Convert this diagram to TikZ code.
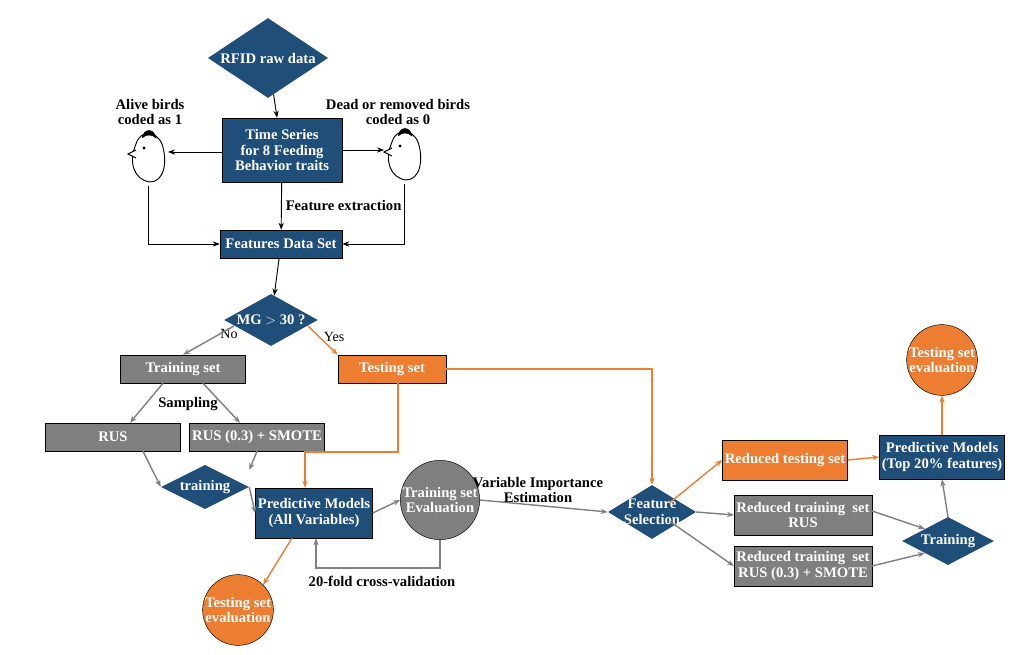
\documentclass[tikz,border=0pt]{standalone}
\usepackage{fontspec}
\setmainfont{Liberation Serif}
\usetikzlibrary{shapes.geometric, arrows.meta}
\definecolor{navy}{HTML}{1F4E79}
\definecolor{orng}{HTML}{ED7D31}
\definecolor{gry}{HTML}{7F7F7F}
\newcommand{\hen}[2]{% position, name
  \begin{scope}[shift={#1}]
    \draw[fill=white, line width=0.8pt] (-12,-8) .. controls (-20,10) and (-14,28) .. (2,30) .. controls (16,30) and (20,10) .. (14,-8) .. controls (8,-22) and (-8,-22) .. (-12,-8);
    \draw[fill=black] (-6,-14) .. controls (-4,-24) and (6,-24) .. (8,-14) .. controls (4,-18) and (-2,-18) .. (-6,-14);
    \draw[fill=white, line width=0.8pt] (-12,-2) -- (-20,2) -- (-12,6);
    \fill (-4,-4) circle (1.6);
    \coordinate (#2) at (0,0);
  \end{scope}}
\begin{document}
\begin{tikzpicture}[x=0.03cm, y=-0.03cm, font=\fontsize{12.5}{13.5}\selectfont\bfseries,
  blue box/.style={rectangle, draw=black, fill=navy, text=white, align=center, inner sep=2pt},
  grey box/.style={rectangle, draw=black, fill=gry, text=white, align=center, inner sep=2pt},
  orange box/.style={rectangle, draw=black, fill=orng, text=white, align=center, inner sep=2pt},
  blue diamond/.style={diamond, fill=navy, text=white, align=center, inner sep=-2pt, aspect=1.6},
  black line/.style={-{Stealth[length=6pt]}, thick},
  grey line/.style={-{Stealth[length=6pt]}, gry, very thick},
  orange line/.style={-{Stealth[length=6pt]}, orng, very thick},
  disk/.style={circle, draw=black, text=white, align=center, inner sep=0pt, minimum size=68*0.03cm}]
\useasboundingbox (0,0) rectangle (1024,655);
% top part
\node[blue diamond, minimum width=120*0.03cm, minimum height=80*0.03cm] (rfid) at (268,58) {RFID raw data};
\node[blue box, minimum width=120*0.03cm, minimum height=64*0.03cm] (ts) at (282,150) {Time Series\\for 8 Feeding\\Behavior traits};
\node[align=center] (alive) at (150,112) {Alive birds\\coded as 1};
\node[align=center] (dead) at (398,112) {Dead or removed birds\\coded as 0};
\hen{(148,152)}{alivehen}
\hen{(404,150)}{deadhen}
\node[blue box, minimum width=122*0.03cm, minimum height=28*0.03cm] (fds) at (281,244) {Features Data Set};
\node[blue diamond, minimum width=78*0.03cm, minimum height=50*0.03cm, aspect=1.8, inner sep=1pt] (mg) at (271,320) {MG $>$ 30 ?};
\node[font=\fontsize{12}{13}\selectfont] (no) at (229,334) {No};
\node[font=\fontsize{12}{13}\selectfont] (yes) at (334,337) {Yes};
% left branch
\node[grey box, minimum width=125*0.03cm, minimum height=28*0.03cm] (train) at (183,369) {Training set};
\node[orange box, minimum width=108*0.03cm, minimum height=28*0.03cm] (test) at (392,369) {Testing set};
\node (sampling) at (188,404) {Sampling};
\node[grey box, minimum width=135*0.03cm, minimum height=28*0.03cm] (rus) at (113,437) {RUS};
\node[grey box, minimum width=135*0.03cm, minimum height=28*0.03cm] (smote) at (257,437) {RUS (0.3) + SMOTE};
\node[blue diamond, minimum width=88*0.03cm, minimum height=44*0.03cm, aspect=2] (trn) at (205,487) {training};
\node[blue box, minimum width=102*0.03cm, minimum height=50*0.03cm] (pm) at (314,513) {Predictive Models\\(All Variables)};
\node[disk, fill=gry] (tse) at (440,500) {Training set\\Evaluation};
\node[disk, fill=orng] (eval1) at (238,610) {Testing set\\evaluation};
\node (cv) at (382,581) {20-fold cross-validation};
\node[align=center] (vie) at (538,490) {Variable Importance\\Estimation};
% right part
\node[blue diamond, minimum width=88*0.03cm, minimum height=54*0.03cm, inner sep=-6pt] (fs) at (652,512) {Feature\\Selection};
\node[orange box, minimum width=112*0.03cm, minimum height=40*0.03cm] (rtest) at (785,460) {Reduced testing set};
\node[grey box, minimum width=134*0.03cm, minimum height=40*0.03cm] (rrus) at (803,515) {Reduced training\ \ set\\RUS};
\node[grey box, minimum width=134*0.03cm, minimum height=40*0.03cm] (rsmote) at (803,566) {Reduced training\ \ set\\RUS (0.3) + SMOTE};
\node[blue diamond, minimum width=92*0.03cm, minimum height=48*0.03cm, aspect=2] (trn2) at (948,541) {Training};
\node[blue box, minimum width=104*0.03cm, minimum height=44*0.03cm] (pm2) at (942,457) {Predictive Models\\(Top 20\% features)};
\node[disk, fill=orng, minimum size=64*0.03cm] (eval2) at (942,360) {Testing set\\evaluation};
% connectors
\draw[black line] (rfid) -- (ts);
\draw[black line] (ts.west |- alivehen) -- (alivehen -| 168,0);
\draw[black line] (ts.east |- deadhen) -- (deadhen -| 384,0);
\draw[black line] (ts) -- node[right]{Feature extraction} (fds);
\draw[black line] (alivehen) ++(0,34) |- (fds.west);
\draw[black line] (deadhen) ++(0,34) |- (fds.east);
\draw[black line] (fds) -- (mg);
\draw[grey line] (mg.west) ++(10,6) -- (train.north);
\draw[orange line] (mg.east) ++(-10,6) -- (test.north west);
\draw[grey line] (train.south) ++(-20,0) -- (rus.north -| 130,0);
\draw[grey line] (train.south) ++(20,0) -- (smote.north -| 240,0);
\draw[grey line] (rus.south) ++(30,0) -- (trn.west);
\draw[grey line] (smote.south) -- (trn.east |- 0,470);
\draw[grey line] (trn.east) -- (pm.west);
\draw[orange line] (test.south) ++(6,0) |- (305,452) -- (pm.north -| 305,0);
\draw[orange line] (test.east) -| (fs.north);
\draw[grey line] (pm.east) -- (tse.west);
\draw[grey line] (tse.south) |- (316,568) -- (pm.south -| 316,0);
\draw[orange line] (pm.south) ++(-22,0) -- (eval1.north east);
\draw[grey line] (tse.east) -- (fs.west);
\draw[orange line] (fs.north east) ++(-4,4) -- (rtest.west);
\draw[grey line] (fs.east) -- (rrus.west);
\draw[grey line] (fs.south east) ++(-4,-4) -- (rsmote.west);
\draw[grey line] (rrus.east) ++(0,-4) -- (trn2.north west);
\draw[grey line] (rsmote.east) -- (trn2.south west);
\draw[orange line] (rtest.east) -- (pm2.west);
\draw[grey line] (trn2.north) -- (pm2.south);
\draw[orange line] (pm2.north) -- (eval2.south);
\end{tikzpicture}
\end{document}
